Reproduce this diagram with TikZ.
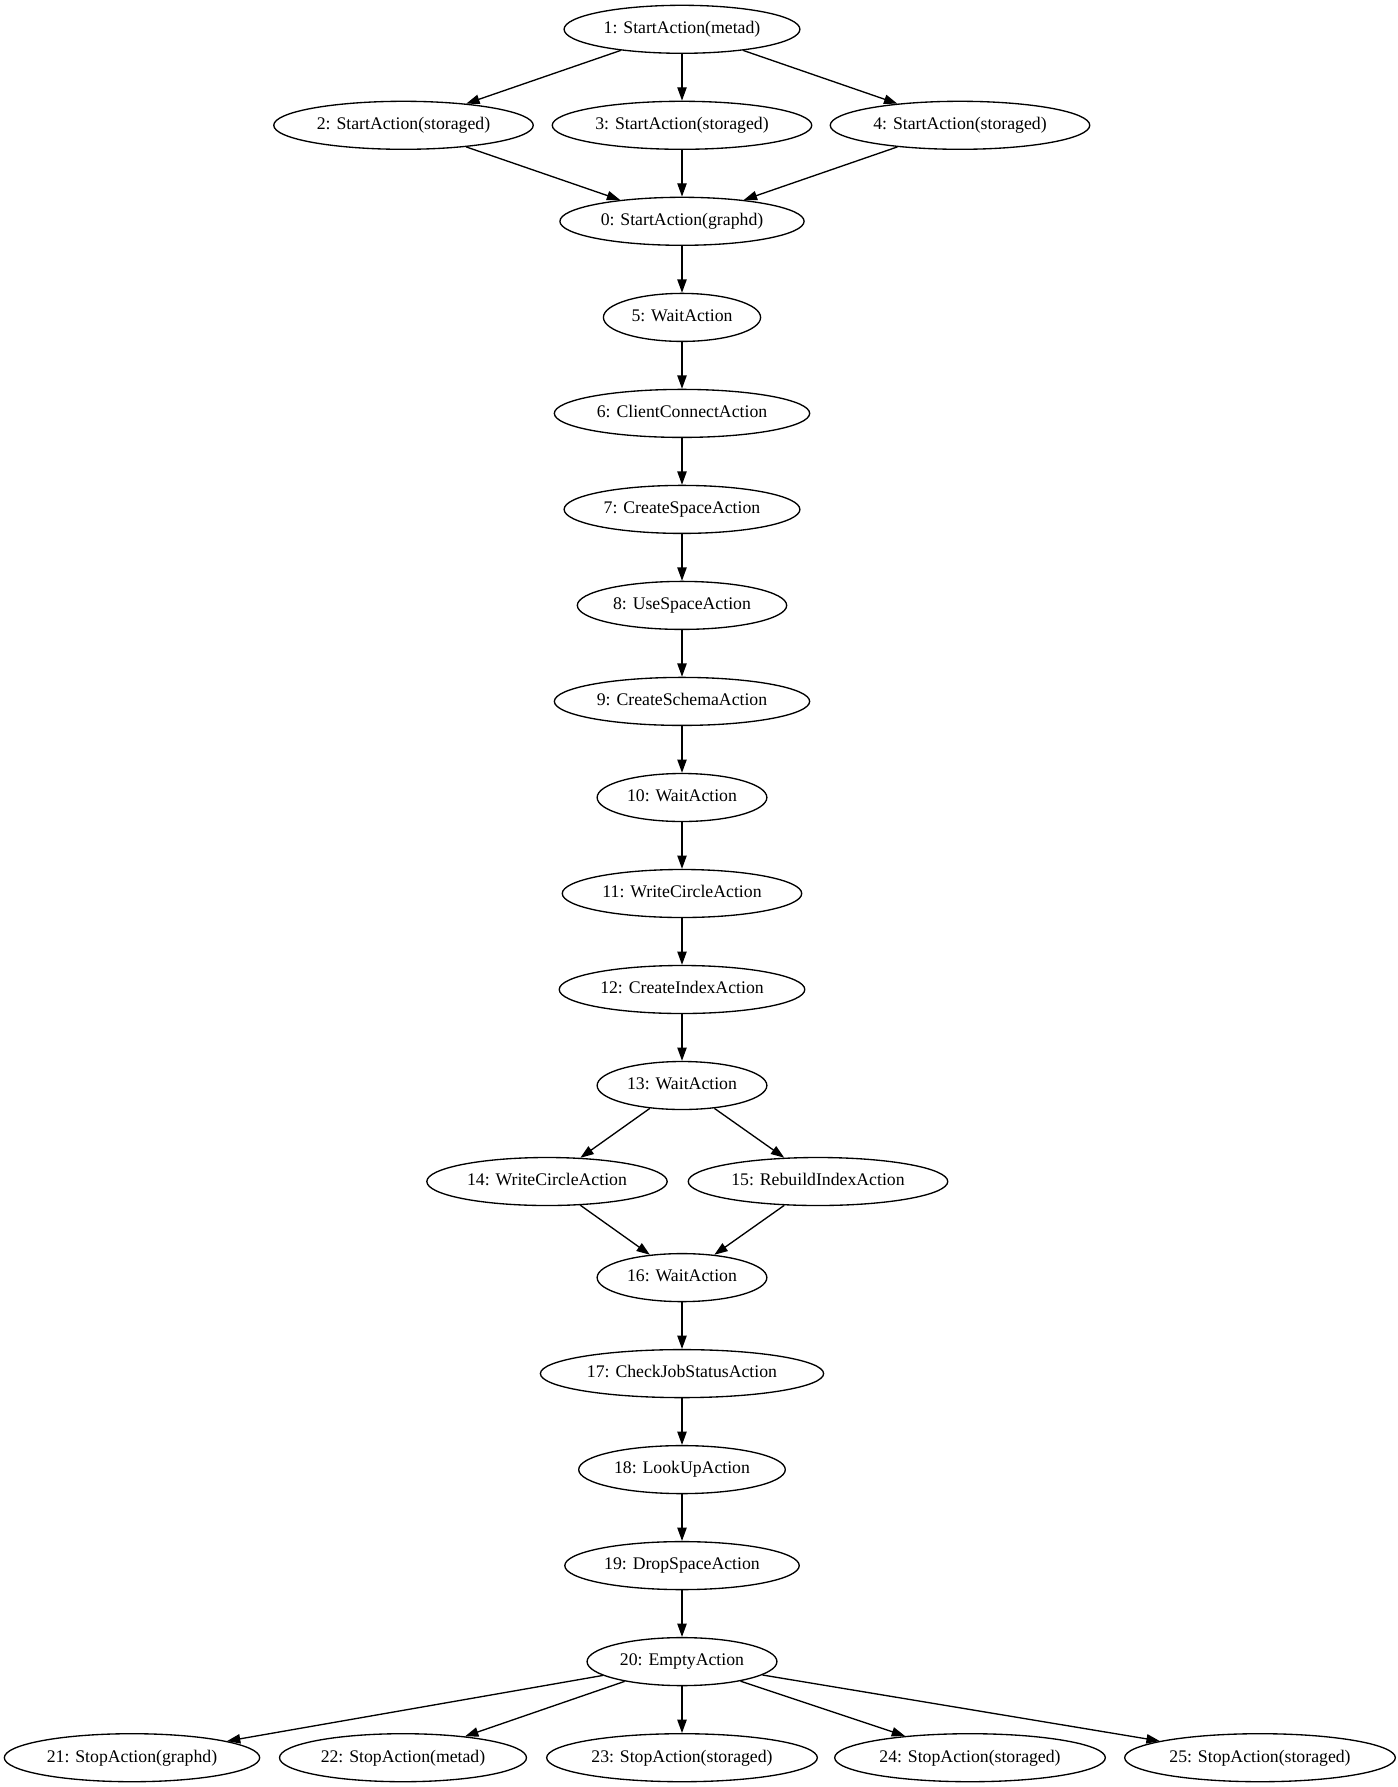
\documentclass[tikz,border=0pt]{standalone}
\usepackage{fontspec}
\setmainfont{Liberation Serif}
\usetikzlibrary{shapes.geometric,arrows.meta}
\begin{document}
\begin{tikzpicture}[x=0.75pt,y=-0.75pt,
  act/.style={draw,ellipse,line width=1pt,font=\fontsize{13.3pt}{16pt}\selectfont,
    minimum height=36pt,inner xsep=3.8pt,inner ysep=2pt,text height=9.5pt,text depth=3pt},
  flow/.style={line width=1pt,-{Triangle[length=10pt,width=7pt]}}]
\useasboundingbox (0,0) rectangle (1398,1787);
% start-up
\node[act] (n1) at (682,29.3) {1: StartAction(metad)};
\node[act] (n2) at (403.5,125.3) {2: StartAction(storaged)};
\node[act] (n3) at (682,125.3) {3: StartAction(storaged)};
\node[act] (n4) at (960,125.3) {4: StartAction(storaged)};
\node[act] (n0) at (682,221.3) {0: StartAction(graphd)};
% main sequence
\node[act] (n5) at (682,317.4) {5: WaitAction};
\node[act] (n6) at (682,413.4) {6: ClientConnectAction};
\node[act] (n7) at (682,509.4) {7: CreateSpaceAction};
\node[act] (n8) at (682,605.4) {8: UseSpaceAction};
\node[act] (n9) at (682,701.4) {9: CreateSchemaAction};
\node[act] (n10) at (682,797.5) {10: WaitAction};
\node[act] (n11) at (682,893.5) {11: WriteCircleAction};
\node[act] (n12) at (682,989.5) {12: CreateIndexAction};
\node[act] (n13) at (682,1085.5) {13: WaitAction};
\node[act] (n14) at (547,1181.5) {14: WriteCircleAction};
\node[act] (n15) at (818,1181.5) {15: RebuildIndexAction};
\node[act] (n16) at (682,1277.6) {16: WaitAction};
\node[act] (n17) at (682,1373.6) {17: CheckJobStatusAction};
\node[act] (n18) at (682,1469.6) {18: LookUpAction};
\node[act] (n19) at (682,1565.6) {19: DropSpaceAction};
\node[act] (n20) at (682,1661.6) {20: EmptyAction};
% shutdown
\node[act] (n21) at (132,1757.7) {21: StopAction(graphd)};
\node[act] (n22) at (403,1757.7) {22: StopAction(metad)};
\node[act] (n23) at (682,1757.7) {23: StopAction(storaged)};
\node[act] (n24) at (970,1757.7) {24: StopAction(storaged)};
\node[act] (n25) at (1260,1757.7) {25: StopAction(storaged)};
% connectors
\foreach \a/\b in {n1/n2,n1/n3,n1/n4,n2/n0,n3/n0,n4/n0,n0/n5,n5/n6,n6/n7,n7/n8,
  n8/n9,n9/n10,n10/n11,n11/n12,n12/n13,n13/n14,n13/n15,n14/n16,n15/n16,n16/n17,
  n17/n18,n18/n19,n19/n20,n20/n21,n20/n22,n20/n23,n20/n24,n20/n25}
  \draw[flow] (\a) -- (\b);
\end{tikzpicture}
\end{document}
